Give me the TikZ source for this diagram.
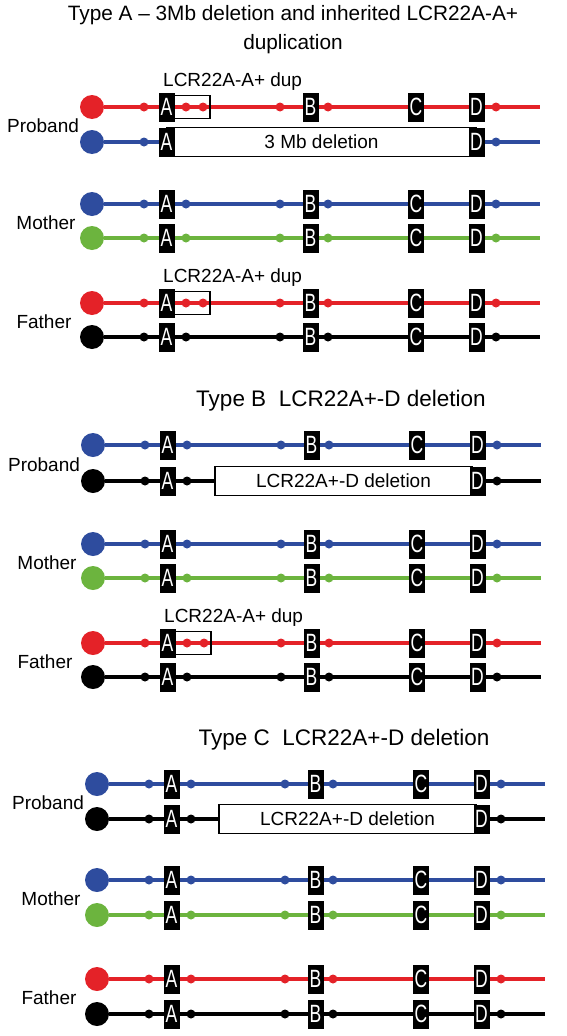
\documentclass[tikz,border=0pt]{standalone}
\usepackage{fontspec}
\usepackage{graphicx}
\setmainfont{Liberation Sans}
\definecolor{chrred}{RGB}{228,34,40}
\definecolor{chrblue}{RGB}{46,76,158}
\definecolor{chrgreen}{RGB}{108,180,62}
\newcommand{\lblfont}{\fontsize{19}{22}\selectfont}
\newcommand{\ttlfont}{\fontsize{22.5}{29}\selectfont}
\newcommand{\bandfont}{\fontsize{25}{25}\selectfont}
\newcommand{\bandtext}[1]{\scalebox{0.7}[1]{#1}}
\begin{document}
\begin{tikzpicture}
[x=1pt,y=-1pt,
 cendecorate/.style={shape=circle,inner sep=0pt,minimum size=24pt,fill=#1},
 dotdecorate/.style={shape=circle,inner sep=0pt,minimum size=9pt,fill=#1},
 banddecorate/.style={shape=rectangle,fill=black,text=white,inner sep=0pt,
   minimum width=16pt,minimum height=29pt,font=\bandfont},
 dupdecorate/.style={shape=rectangle,draw,line width=1.2pt,inner sep=0pt,
   minimum width=36pt,minimum height=23pt},
 deldecorate/.style={shape=rectangle,draw,fill=white,line width=1.2pt,inner sep=0pt,
   minimum height=29pt,font=\lblfont},
 linedecorate/.style={-,line width=4.2pt,draw=#1},
 labeldecorate/.style={inner sep=0pt,font=\lblfont},
 titledecorate/.style={inner sep=0pt,align=center,font=\ttlfont}]
\useasboundingbox (0,0) rectangle (566,1036);
%% titles
\node (titleA) at (293,30) [titledecorate,font=\fontsize{20.8}{29}\selectfont]
  {Type A – 3Mb deletion and inherited LCR22A-A+\\duplication};
\node (titleB) at (341,401) [titledecorate] {Type B\ \ LCR22A+-D deletion};
\node (titleC) at (344,740) [titledecorate] {Type C\ \ LCR22A+-D deletion};
%% chromosomes: centromere, line and dots
\foreach \nm/\y/\col/\dx in {pa1/107/chrred/0, pa2/142/chrblue/0, ma1/204/chrblue/0,
  ma2/238/chrgreen/0, fa1/303/chrred/0, fa2/337/black/0,
  pb1/445/chrblue/1, pb2/481/black/1, mb1/544/chrblue/1,
  mb2/578/chrgreen/1, fb1/643/chrred/1, fb2/677/black/1,
  pc1/784/chrblue/5, pc2/819/black/5, mc1/880/chrblue/5,
  mc2/915/chrgreen/5, fc1/979/chrred/5, fc2/1014/black/5} {
  \node (\nm c) at (92+\dx,\y) [cendecorate=\col] {};
  \coordinate (\nm e) at (540+\dx,\y);
  \draw[linedecorate=\col] (\nm c) -- (\nm e);
  \foreach \x in {144,186,280,328,496}
    \node (\nm d\x) at (\x+\dx,\y) [dotdecorate=\col] {};
}
%% deletions
\foreach \nm/\x/\y/\w/\txt in {pa2/321.5/142/310/3 Mb deletion,
  pb2/343.5/481/257/LCR22A+-D deletion, pc2/347.5/819/257/LCR22A+-D deletion} {
  \node (\nm del) at (\x,\y) [deldecorate,minimum width=\w pt] {\txt};
}
%% duplications
\foreach \nm/\y/\dx in {pa1/107/0, fa1/303/0, fb1/643/1} {
  \node (\nm d203) at (203+\dx,\y) [dotdecorate=chrred] {};
  \node (\nm dup) at (192+\dx,\y) [dupdecorate] {};
  \node (\nm lab) at (163+\dx,\y-21) [labeldecorate,anchor=base west] {LCR22A-A+ dup};
}
%% LCR22 blocks
\foreach \nm/\y/\dx in {pa1/107/0, ma1/204/0, ma2/238/0, fa1/303/0, fa2/337/0,
  pb1/445/1, mb1/544/1, mb2/578/1, fb1/643/1, fb2/677/1,
  pc1/784/5, mc1/880/5, mc2/915/5, fc1/979/5, fc2/1014/5} {
  \foreach \b/\x in {A/166.5,B/310.5,C/416,D/476.5}
    \node (\nm\b) at (\x+\dx,\y) [banddecorate] {\bandtext{\b}};
}
\foreach \nm/\y/\dx in {pa2/142/0, pb2/481/1, pc2/819/5} {
  \foreach \b/\x in {A/166.5,D/476.5}
    \node (\nm\b) at (\x+\dx,\y) [banddecorate] {\bandtext{\b}};
}
%% family members
\foreach \nm/\x/\y/\txt in {lpa/43/126/Proband, lma/46/223/Mother, lfa/44/322/Father,
  lpb/44/465/Proband, lmb/47/563/Mother, lfb/45/662/Father,
  lpc/48/803/Proband, lmc/51/899/Mother, lfc/49/998/Father} {
  \node (\nm) at (\x,\y) [labeldecorate] {\txt};
}
\end{tikzpicture}
\end{document}
